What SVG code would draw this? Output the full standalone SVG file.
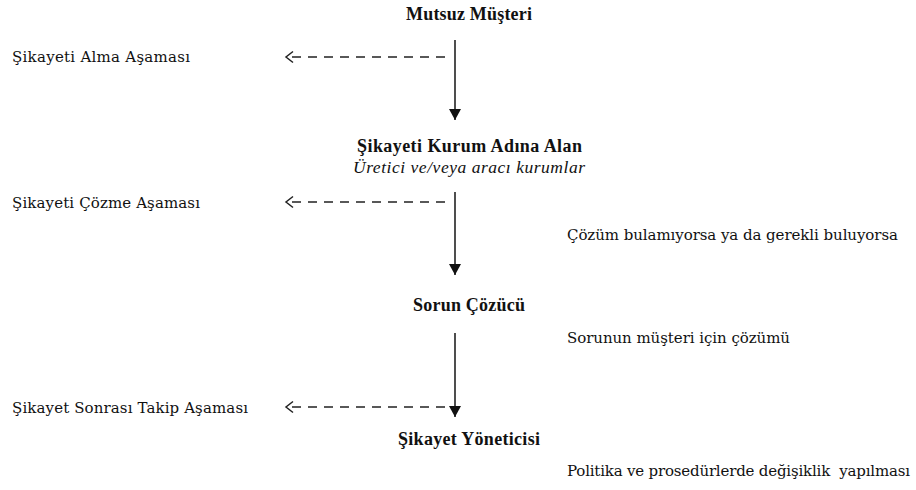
<svg xmlns="http://www.w3.org/2000/svg" width="916" height="490" viewBox="0 0 916 490">
<defs>
<style>
text{font-family:"DejaVu Serif",serif;fill:#111;font-size:15px}
.b{font-family:"Liberation Serif","Times New Roman",serif;font-weight:bold;font-size:18px}
.i{font-family:"Liberation Serif","Times New Roman",serif;font-style:italic;font-size:17.5px}
.solid{stroke:#222;stroke-width:1.6;fill:none}
.dash{stroke:#222;stroke-width:1.4;fill:none;stroke-dasharray:9 7}
.open{stroke:#222;stroke-width:1.5;fill:none}
</style>
<marker id="tri" markerUnits="userSpaceOnUse" markerWidth="12" markerHeight="12" refX="11" refY="6" orient="auto">
<path d="M0,0 L11,6 L0,12 z" fill="#111"/>
</marker>
</defs>
<rect width="916" height="490" fill="#fff"/>
<g id="connectors">
<line class="solid" x1="455" y1="40" x2="455" y2="120" marker-end="url(#tri)"/>
<line class="solid" x1="455" y1="192" x2="455" y2="275" marker-end="url(#tri)"/>
<line class="solid" x1="455" y1="333" x2="455" y2="417" marker-end="url(#tri)"/>
<line class="dash" x1="445" y1="57" x2="288" y2="57"/>
<polyline class="open" points="293,51.5 286,57 293,62.5"/>
<line class="dash" x1="445" y1="202" x2="288" y2="202"/>
<polyline class="open" points="293,196.5 286,202 293,207.5"/>
<line class="dash" x1="445" y1="407" x2="288" y2="407"/>
<polyline class="open" points="293,401.5 286,407 293,412.5"/>
</g>
<g id="n-mutsuz"><text class="b" x="406" y="20" textLength="126">Mutsuz Müşteri</text></g>
<g id="n-kurum"><text class="b" x="357" y="152" textLength="225">Şikayeti Kurum Adına Alan</text>
<text class="i" x="353" y="173" textLength="232">Üretici ve/veya aracı kurumlar</text></g>
<g id="n-sorun"><text class="b" x="413" y="311" textLength="112">Sorun Çözücü</text></g>
<g id="n-yonetici"><text class="b" x="398" y="445" textLength="142">Şikayet Yöneticisi</text></g>
<g id="stage-alma"><text x="12" y="62" textLength="178">Şikayeti Alma Aşaması</text></g>
<g id="stage-cozme"><text x="12" y="208" textLength="188">Şikayeti Çözme Aşaması</text></g>
<g id="stage-takip"><text x="12" y="413" textLength="236">Şikayet Sonrası Takip Aşaması</text></g>
<g id="note-1"><text x="567" y="240" textLength="331">Çözüm bulamıyorsa ya da gerekli buluyorsa</text></g>
<g id="note-2"><text x="567" y="343" textLength="223">Sorunun müşteri için çözümü</text></g>
<g id="note-3"><text x="567" y="476" textLength="343" xml:space="preserve">Politika ve prosedürlerde değişiklik  yapılması</text></g>
</svg>
